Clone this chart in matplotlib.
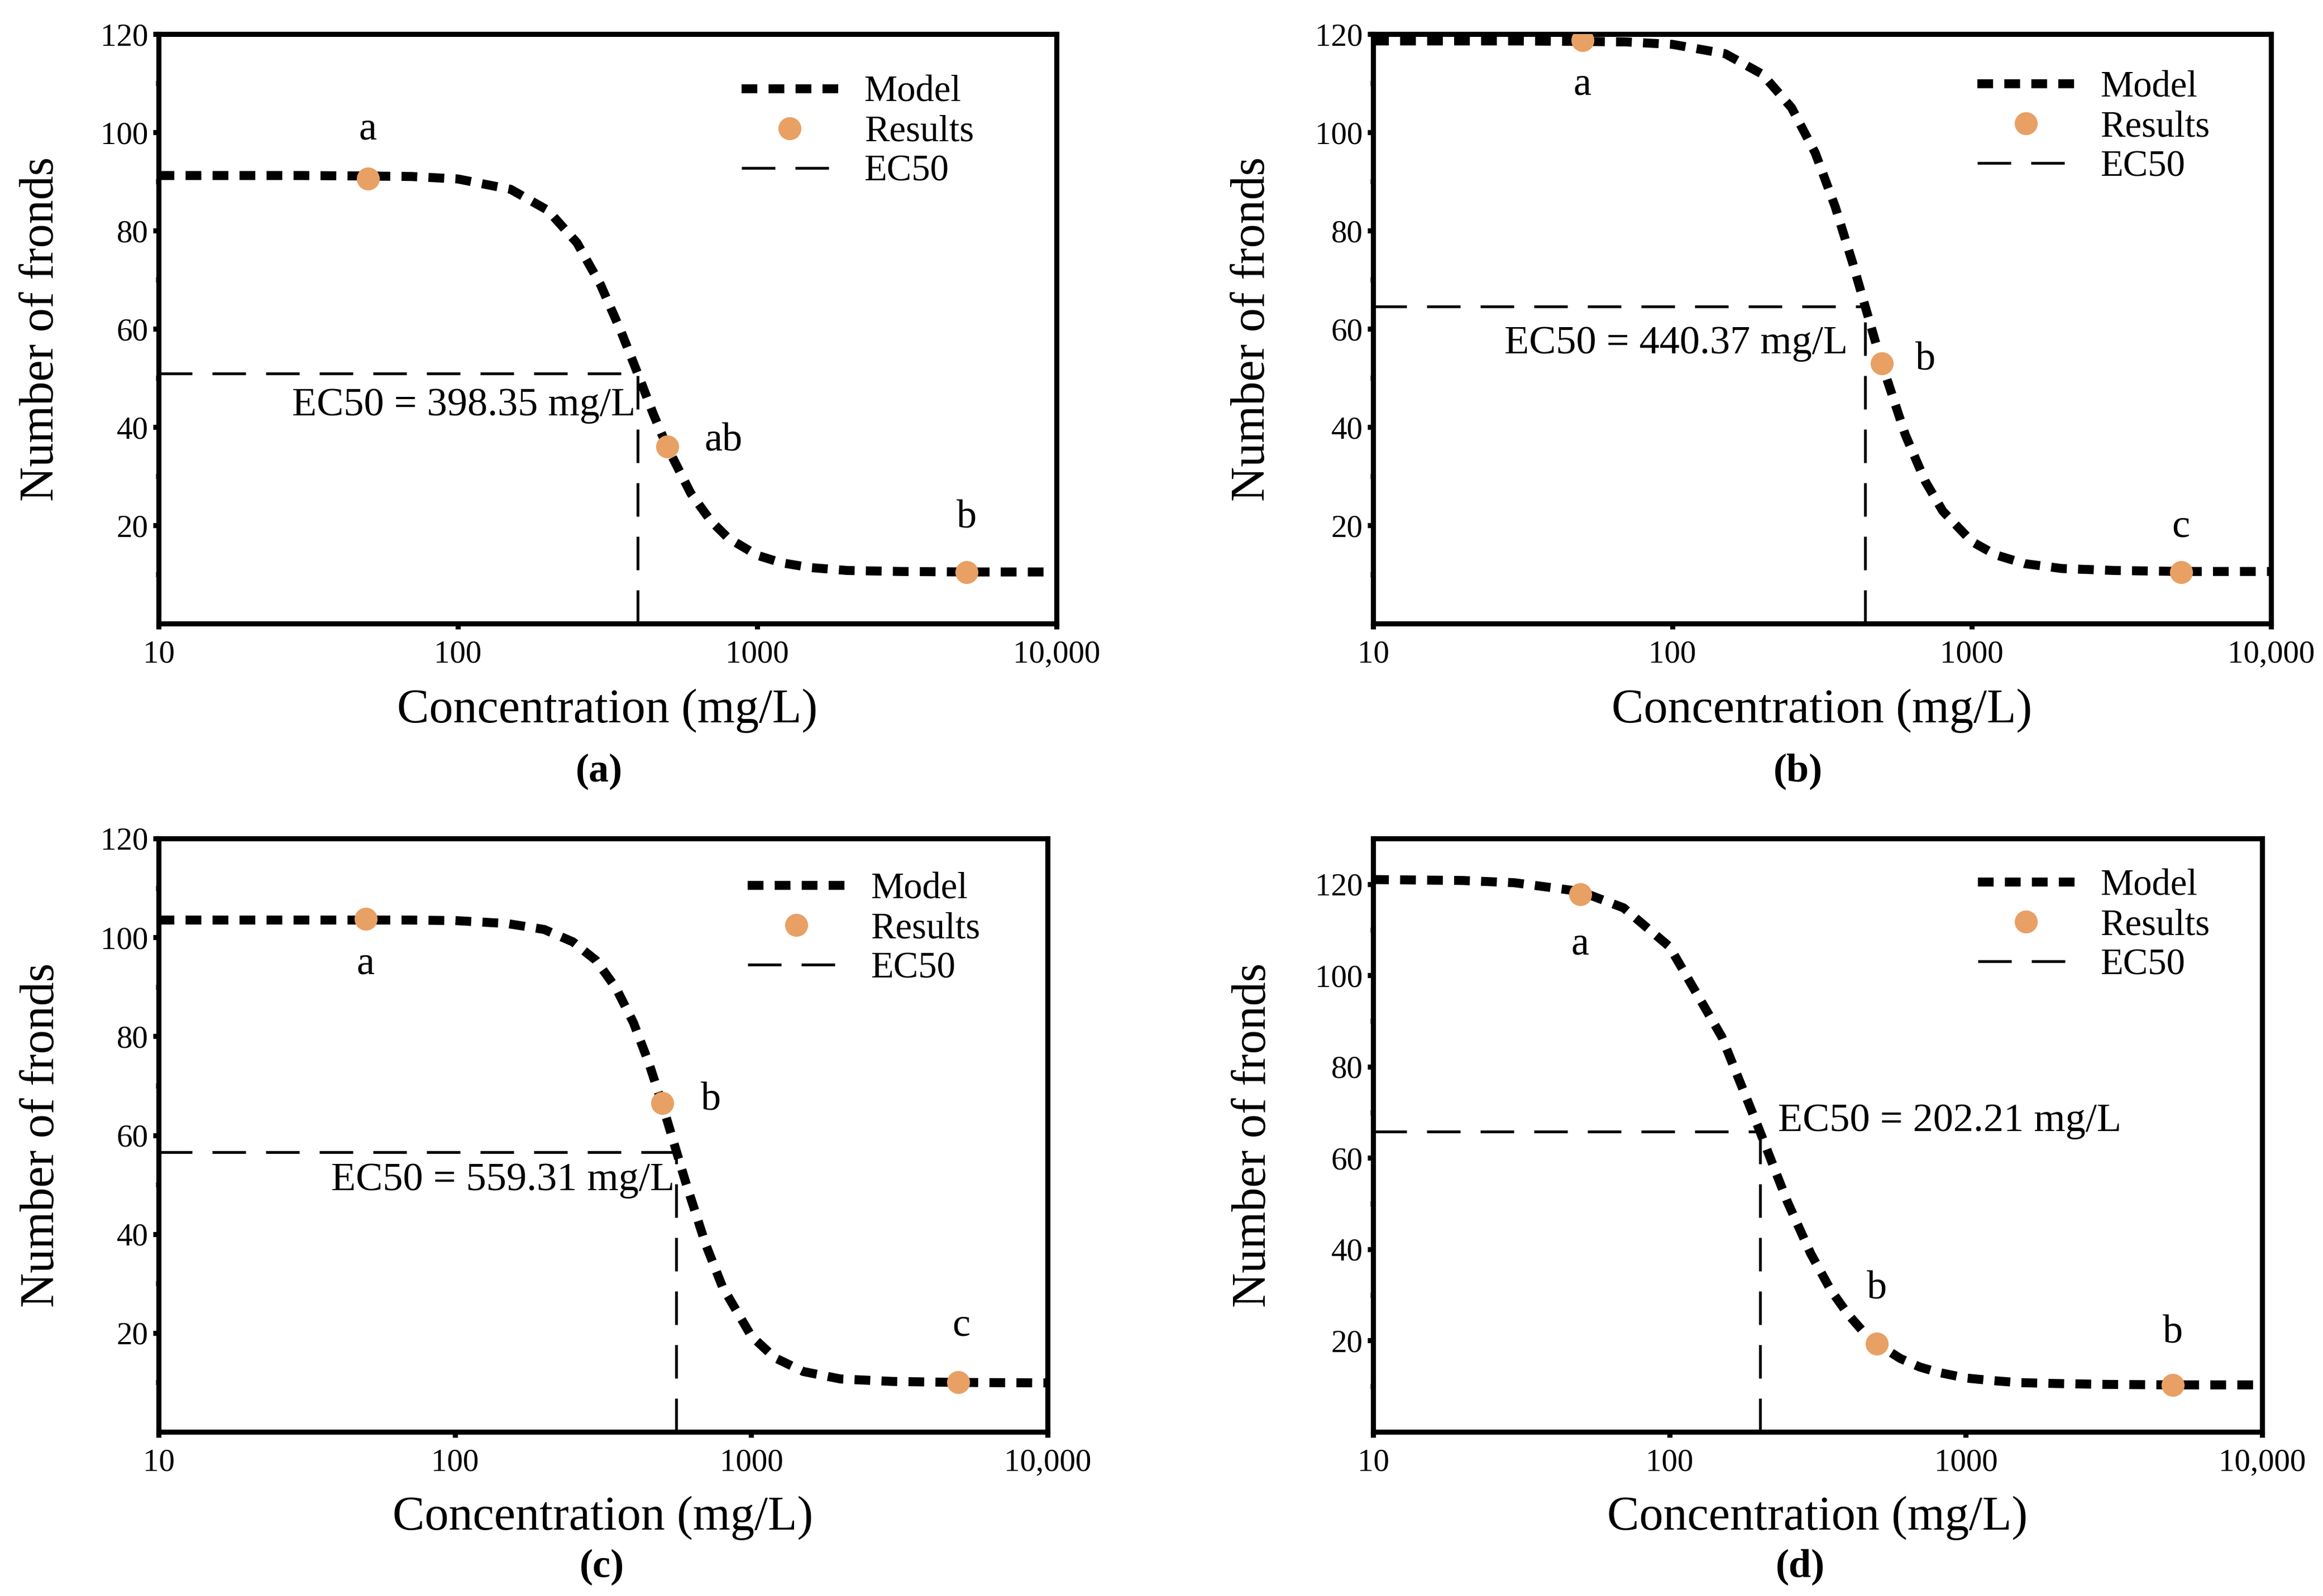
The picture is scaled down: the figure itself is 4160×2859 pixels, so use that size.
import matplotlib
matplotlib.use('Agg')
import matplotlib.pyplot as plt
from matplotlib.ticker import FixedLocator, NullLocator, FixedFormatter

plt.rcParams['font.family'] = ['Liberation Serif', 'DejaVu Serif']

# ---------------- data ----------------
model_x = [10, 20, 30, 50, 70, 100, 150, 200, 250, 300, 350, 400, 450, 500,
           600, 700, 800, 1000, 1200, 1500, 2000, 3000, 5000, 10000]
model_a = [91.2, 91.2, 91.2, 91.1, 91.0, 90.5, 88.4, 84.1, 77.5, 68.9, 59.6, 50.7,
           42.6, 36.0, 26.5, 20.9, 17.4, 13.9, 12.4, 11.4, 10.8, 10.6, 10.5, 10.5]
model_b = [118.6, 118.6, 118.6, 118.5, 118.4, 117.9, 116.0, 111.8, 105.0, 95.8, 84.8, 73.4,
           62.6, 53.0, 38.4, 28.9, 22.9, 16.7, 14.0, 12.2, 11.2, 10.8, 10.6, 10.6]
model_c = [103.5, 103.5, 103.5, 103.5, 103.5, 103.4, 102.8, 101.6, 99.1, 95.3, 89.7, 82.8,
           74.8, 66.4, 50.6, 38.1, 29.3, 19.4, 15.0, 12.2, 10.7, 10.2, 10.0, 9.9]
model_d = [121.0, 120.8, 120.3, 118.4, 114.8, 106.3, 86.6, 66.5, 50.4, 39.0, 31.1, 25.8,
           22.0, 19.4, 16.1, 14.2, 13.1, 11.8, 11.3, 10.8, 10.6, 10.4, 10.3, 10.3]

res_x = [50, 500, 5000]
res_a = [90.6, 36.0, 10.5]
res_b = [118.8, 53.0, 10.5]
res_c = [103.8, 66.5, 10.0]
res_d = [117.8, 19.3, 10.3]

ec50_vals = [398.35, 440.37, 559.31, 202.21]
ec50_y = [50.9, 64.5, 56.6, 65.8]

letters_a = ['a', 'ab', 'b']
letters_b = ['a', 'b', 'c']
letters_c = ['a', 'b', 'c']
letters_d = ['a', 'b', 'b']

panel_tags = ['(a)', '(b)', '(c)', '(d)']
ymax_vals = [120, 120, 120, 130]
xtick_vals = [10, 100, 1000, 10000]
xtick_labels = ['10', '100', '1000', '10,000']
ytick_vals = [20, 40, 60, 80, 100, 120]
yminor_vals = [10, 30, 50, 70, 90, 110]

# ---------------- layout ----------------
W, H = 4160, 2859
DPI = 200
fig = plt.figure(figsize=(W / DPI, H / DPI), dpi=DPI)

axes_rects = [
    (284, 61, 1892, 1117),
    (2459, 61, 4067, 1117),
    (284, 1502, 1876, 2565),
    (2459, 1502, 4051, 2565),
]

# letter offsets (x, y) in data coords for each panel
letter_pos = [
    [(50, 100.6), (770, 37.2), (5000, 21.5)],
    [(50, 109.7), (700, 53.6), (5000, 19.7)],
    [(50, 94.6), (730, 67.0), (5100, 21.5)],
    [(50, 106.8), (500, 31.3), (5000, 21.6)],
]
ec_text_pos = [(392, 44.4, 'right'), (385, 57.0, 'right'), (552, 50.9, 'right'), (232, 68.0, 'left')]
legend_anchor = [(0.649, 0.93), (0.673, 0.938), (0.663, 0.943), (0.68, 0.949)]
tag_pos = [(0.258, 0.5166), (0.774, 0.5166), (0.259, 0.0182), (0.775, 0.0182)]
ylabel_x = [-0.1306, -0.134, -0.131, -0.134]
xlabel_y = [-0.148, -0.148, -0.145, -0.145]

models = [model_a, model_b, model_c, model_d]
results = [res_a, res_b, res_c, res_d]
letters = [letters_a, letters_b, letters_c, letters_d]

ORANGE = '#E8A064'
SPINE_LW = 3.3
MODEL_LW = 5.8
EC_LW = 1.8

for i in range(4):
    l, t, r, b = axes_rects[i]
    ax = fig.add_axes([l / W, 1 - b / H, (r - l) / W, (b - t) / H])
    ax.set_xscale('log')
    ax.set_xlim(10, 10000)
    ax.set_ylim(0, ymax_vals[i])

    ec = ec50_vals[i]
    ey = ec50_y[i]
    ax.plot([10, ec], [ey, ey], color='black', lw=EC_LW, linestyle=(0, (12, 7.2)),
            label='EC50', zorder=2)
    ax.plot([ec, ec], [0, ey], color='black', lw=EC_LW, linestyle=(0, (12, 7.2)), zorder=2)

    ax.plot(model_x, models[i], color='black', lw=MODEL_LW, linestyle=(0, (1.75, 1.25)),
            dash_capstyle='butt', label='Model', zorder=3)
    ax.plot(res_x, results[i], linestyle='none', marker='o', markersize=14.8,
            color=ORANGE, markeredgewidth=0, label='Results', zorder=4)

    for txt, (lx, ly) in zip(letters[i], letter_pos[i]):
        ax.text(lx, ly, txt, fontsize=26, ha='center', va='center')

    tx, ty, tha = ec_text_pos[i]
    ax.text(tx, ty, f'EC50 = {ec:.2f} mg/L', fontsize=26, ha=tha, va='center')

    # ticks
    ax.xaxis.set_major_locator(FixedLocator(xtick_vals))
    ax.xaxis.set_major_formatter(FixedFormatter(xtick_labels))
    ax.xaxis.set_minor_locator(NullLocator())
    yt = [v for v in ytick_vals if v <= ymax_vals[i]]
    ax.yaxis.set_major_locator(FixedLocator(yt))
    ax.yaxis.set_minor_locator(FixedLocator(yminor_vals))
    ax.tick_params(axis='both', which='major', direction='out', length=3.6,
                   width=SPINE_LW, labelsize=20.5)
    ax.tick_params(axis='x', which='major', pad=7)
    ax.tick_params(axis='y', which='major', pad=3)
    ax.tick_params(axis='y', which='minor', direction='out', length=1.8, width=SPINE_LW)
    for sp in ax.spines.values():
        sp.set_linewidth(SPINE_LW)

    ax.set_xlabel('Concentration (mg/L)', fontsize=31)
    ax.set_ylabel('Number of fronds', fontsize=31)
    ax.xaxis.set_label_coords(0.5, xlabel_y[i])
    ax.xaxis.label.set_verticalalignment('center')
    ax.yaxis.set_label_coords(ylabel_x[i], 0.5)
    ax.yaxis.label.set_verticalalignment('center')

    handles, labs = ax.get_legend_handles_labels()
    order = [labs.index('Model'), labs.index('Results'), labs.index('EC50')]
    ax.legend([handles[k] for k in order], [labs[k] for k in order],
              loc='upper left', bbox_to_anchor=legend_anchor[i], frameon=False,
              fontsize=24, handlelength=2.6, handletextpad=0.7, labelspacing=0.15,
              borderpad=0, borderaxespad=0, numpoints=1)

    fx, fy = tag_pos[i]
    fig.text(fx, fy, panel_tags[i], fontsize=26, fontweight='bold', ha='center', va='center')

fig.savefig('out.png', dpi=DPI)
